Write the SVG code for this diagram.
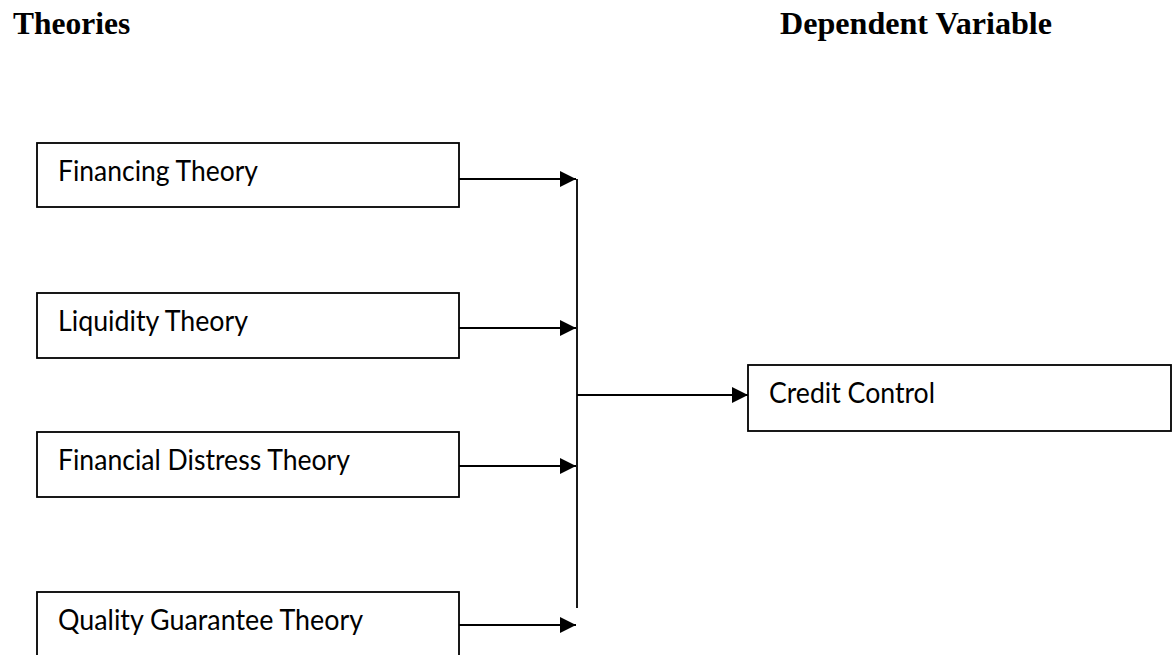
<svg xmlns="http://www.w3.org/2000/svg" width="1173" height="655" viewBox="0 0 1173 655">
<style>
.hd{font-family:"Liberation Serif","Times New Roman",serif;font-weight:bold;font-size:31.5px;fill:#000}
.box{fill:#fff;stroke:#000;stroke-width:1.8}
.lbl{font-family:Lato,"Noto Sans",sans-serif;font-size:28.5px;fill:#000}
.cn{fill:none;stroke:#000;stroke-width:1.8}
</style>
<defs>
<marker id="ah" markerWidth="16" markerHeight="16" refX="16" refY="8" orient="auto" markerUnits="userSpaceOnUse">
<path d="M0,0 L16,8 L0,16 Z" fill="#000"/>
</marker>
</defs>
<rect width="1173" height="655" fill="#fff"/>
<text class="hd" x="13" y="34">Theories</text>
<text class="hd" x="780" y="34" textLength="272" lengthAdjust="spacingAndGlyphs">Dependent Variable</text>

<g id="n1"><rect class="box" x="37" y="143" width="422" height="64"/><text class="lbl" x="58" y="181" textLength="200" lengthAdjust="spacingAndGlyphs">Financing Theory</text></g>
<g id="n2"><rect class="box" x="37" y="293" width="422" height="65"/><text class="lbl" x="58" y="331" textLength="190" lengthAdjust="spacingAndGlyphs">Liquidity Theory</text></g>
<g id="n3"><rect class="box" x="37" y="432" width="422" height="65"/><text class="lbl" x="58" y="470" textLength="292" lengthAdjust="spacingAndGlyphs">Financial Distress Theory</text></g>
<g id="n4"><rect class="box" x="37" y="592" width="422" height="66"/><text class="lbl" x="58" y="630" textLength="305" lengthAdjust="spacingAndGlyphs">Quality Guarantee Theory</text></g>
<g id="n5"><rect class="box" x="748" y="365" width="423" height="66"/><text class="lbl" x="769" y="403" textLength="166" lengthAdjust="spacingAndGlyphs">Credit Control</text></g>

<g id="connectors">
<line class="cn" x1="459" y1="179" x2="576" y2="179" marker-end="url(#ah)"/>
<line class="cn" x1="459" y1="328" x2="576" y2="328" marker-end="url(#ah)"/>
<line class="cn" x1="459" y1="466" x2="576" y2="466" marker-end="url(#ah)"/>
<line class="cn" x1="459" y1="625" x2="576" y2="625" marker-end="url(#ah)"/>
<line class="cn" x1="577" y1="179" x2="577" y2="608"/>
<line class="cn" x1="577" y1="395" x2="748" y2="395" marker-end="url(#ah)"/>
</g>
</svg>
